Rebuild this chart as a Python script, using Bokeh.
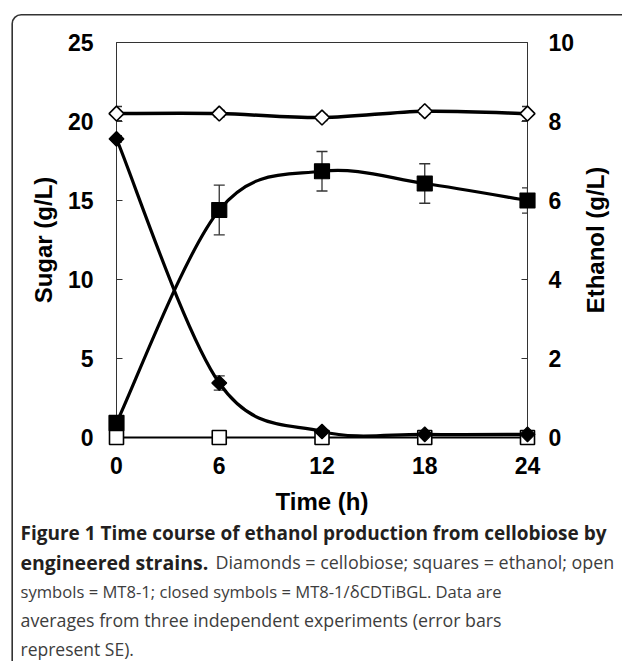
import numpy as np
from bokeh.plotting import figure
from bokeh.models import (Range1d, LinearAxis, FixedTicker, Whisker, ColumnDataSource, TeeHead)
from bokeh.core.properties import value
from bokeh.embed import file_html
from bokeh.resources import INLINE

# ---------------- data ----------------
time_h = [0, 6, 12, 18, 24]
cello_mt81 = [20.5, 20.5, 20.25, 20.65, 20.5]          # open diamonds (g/L)
cello_mt81_err = [0.45, 0.2, 0.2, 0.2, 0.45]
cello_bgl = [18.9, 3.45, 0.38, 0.2, 0.2]               # closed diamonds (g/L)
cello_bgl_err = [0.2, 0.45, 0.1, 0.1, 0.1]
ethanol_mt81 = [0, 0, 0, 0, 0]                          # open squares (g/L)
ethanol_bgl = [0.37, 5.76, 6.74, 6.43, 6.0]             # closed squares (g/L)
ethanol_bgl_err = [0.05, 0.63, 0.5, 0.5, 0.32]

time_ticks = [0, 6, 12, 18, 24]
sugar_ticks = [0, 5, 10, 15, 20, 25]
ethanol_ticks = [0, 2, 4, 6, 8, 10]

x_label = "Time (h)"
y_label = "Sugar (g/L)"
y2_label = "Ethanol (g/L)"

# caption: (text, style, font size)
caption_lines = [
    [("Figure 1 Time course of ethanol production from cellobiose by", "bold", 19)],
    [("engineered strains.", "bold", 19.5), ("Diamonds = cellobiose; squares = ethanol; open", "normal", 17.9)],
    [("symbols = MT8-1; closed symbols = MT8-1/\u03b4CDTiBGL. Data are", "normal", 16.6)],
    [("averages from three independent experiments (error bars", "normal", 17.8)],
    [("represent SE).", "normal", 17.5)],
]

# ---------------- helpers ----------------
def smooth_segments(xs, ys):
    """Excel-like smoothed line: cubic Bezier segments (Catmull-Rom)."""
    n = len(xs)
    out = dict(x0=[], y0=[], x1=[], y1=[], cx0=[], cy0=[], cx1=[], cy1=[])
    for i in range(n - 1):
        a = i - 1 if i > 0 else i
        d = i + 2 if i + 2 < n else i + 1
        out["x0"].append(xs[i]); out["y0"].append(ys[i])
        out["x1"].append(xs[i + 1]); out["y1"].append(ys[i + 1])
        out["cx0"].append(xs[i] + (xs[i + 1] - xs[a]) / 6.0)
        out["cy0"].append(ys[i] + (ys[i + 1] - ys[a]) / 6.0)
        out["cx1"].append(xs[i + 1] - (xs[d] - xs[i]) / 6.0)
        out["cy1"].append(ys[i + 1] - (ys[d] - ys[i]) / 6.0)
    return ColumnDataSource(out)

# layout (pixels)
W, H = 622, 661
FL, FR, FT, FB = 116, 527, 42, 437      # frame edges

p = figure(width=W, height=H, output_backend="svg", toolbar_location=None, title=None,
           x_range=Range1d(time_ticks[0], time_ticks[-1]),
           y_range=Range1d(sugar_ticks[0], sugar_ticks[-1]),
           min_border_left=FL, min_border_right=W - FR, min_border_top=FT, min_border_bottom=H - FB)
p.extra_y_ranges = {"eth": Range1d(ethanol_ticks[0], ethanol_ticks[-1])}
p.grid.visible = False
p.outline_line_color = "#333333"
p.outline_line_width = 1
p.background_fill_color = "white"
p.border_fill_color = "white"

tick_font = "Liberation Sans"

def style_axis(ax, ticks, standoff):
    ax.ticker = FixedTicker(ticks=ticks)
    ax.major_tick_in = 6
    ax.major_tick_out = 0
    ax.minor_tick_line_color = None
    ax.axis_line_color = "#333333"
    ax.major_tick_line_color = "#333333"
    ax.major_label_text_font = tick_font
    ax.major_label_text_font_style = "bold"
    ax.major_label_text_font_size = "23px"
    ax.major_label_text_color = "black"
    ax.major_label_standoff = standoff

style_axis(p.xaxis[0], time_ticks, 19)
style_axis(p.yaxis[0], sugar_ticks, 23)
yax2 = LinearAxis(y_range_name="eth")
style_axis(yax2, ethanol_ticks, 21)
p.add_layout(yax2, "right")

# axis titles (centres placed relative to the axis origin / frame edges)
y_mid = (sugar_ticks[0] + sugar_ticks[-1]) / 2
x_mid = (time_ticks[0] + time_ticks[-1]) / 2
title_kw = dict(text_font=value(tick_font), text_font_style="bold", text_font_size="24px",
                text_color="black", text_align="center", text_baseline="middle")
for tx, ty, txt, xo, yo, ang in [
        (time_ticks[0], y_mid, y_label, 43 - FL, 0, np.pi / 2),
        (time_ticks[-1], y_mid, y2_label, 595 - FR, 0, np.pi / 2),
        (x_mid, sugar_ticks[0], x_label, 0, 500.5 - FB, 0)]:
    t = p.text(x=[tx], y=[ty], text=[txt], x_offset=xo, y_offset=yo, angle=ang, **title_kw)
    t.level = "overlay"

# ---------------- lines ----------------
LW = 3.2
p.bezier(x0="x0", y0="y0", x1="x1", y1="y1", cx0="cx0", cy0="cy0", cx1="cx1", cy1="cy1",
         source=smooth_segments(time_h, cello_mt81), line_color="black", line_width=3.5, line_cap="round")
p.bezier(x0="x0", y0="y0", x1="x1", y1="y1", cx0="cx0", cy0="cy0", cx1="cx1", cy1="cy1",
         source=smooth_segments(time_h, cello_bgl), line_color="black", line_width=LW, line_cap="round")
p.bezier(x0="x0", y0="y0", x1="x1", y1="y1", cx0="cx0", cy0="cy0", cx1="cx1", cy1="cy1",
         source=smooth_segments(time_h, ethanol_bgl), line_color="black", line_width=LW, line_cap="round",
         y_range_name="eth")
p.line(time_h, ethanol_mt81, line_color="black", line_width=2.2, y_range_name="eth", level="overlay")

# ---------------- error bars ----------------
def add_err(xs, ys, es, y_range_name="default"):
    src = ColumnDataSource(dict(x=xs, lo=[y - e for y, e in zip(ys, es)], hi=[y + e for y, e in zip(ys, es)]))
    w = Whisker(source=src, base="x", lower="lo", upper="hi", dimension="height",
                line_color="#333333", line_width=1.3, y_range_name=y_range_name,
                upper_head=TeeHead(size=11, line_color="#333333", line_width=1.3),
                lower_head=TeeHead(size=11, line_color="#333333", line_width=1.3))
    p.add_layout(w)

add_err(time_h, cello_mt81, cello_mt81_err)
add_err(time_h, cello_bgl, cello_bgl_err)
add_err(time_h, ethanol_bgl, ethanol_bgl_err, "eth")

# ---------------- markers ----------------
r = p.scatter(time_h, ethanol_mt81, marker="square", size=14, fill_color="white", line_color="black",
              line_width=1.6, y_range_name="eth")
r.level = "overlay"
r = p.scatter(time_h, ethanol_bgl, marker="square", size=15, fill_color="black", line_color="black",
              line_width=1.2, y_range_name="eth")
r.level = "overlay"
r = p.scatter(time_h, cello_bgl, marker="square", angle=np.pi / 4, size=10.5, fill_color="black",
              line_color="black", line_width=1.2)
r.level = "overlay"
r = p.scatter(time_h, cello_mt81, marker="square", angle=np.pi / 4, size=10.5, fill_color="white",
              line_color="black", line_width=1.6)
r.level = "overlay"

# ---------------- caption ----------------
cap_font = "Open Sans"
cap_left, cap_mid0, cap_dy = 20, 532.5, 29
second_piece_x = 215
for li, pieces in enumerate(caption_lines):
    for pi_, (txt, style, size) in enumerate(pieces):
        xo = (second_piece_x if pi_ == 1 else cap_left) - FL
        t = p.text(x=[time_ticks[0]], y=[sugar_ticks[0]], text=[txt], x_offset=xo,
                   y_offset=cap_mid0 + li * cap_dy - FB, text_font=value(cap_font),
                   text_font_size=f"{size}px", text_font_style=style,
                   text_color="#231f20" if style == "bold" else "#3d3d3d",
                   text_baseline="middle", text_align="left")
        t.level = "overlay"

# ---------------- panel border (rounded, running off the right/bottom edges) ----------------
bx0, by0, bx1, by1 = 11.7, 14.3, W + 60, H + 60
px_x = (FR - FL) / (time_ticks[-1] - time_ticks[0])
px_y = (FB - FT) / (sugar_ticks[-1] - sugar_ticks[0])
cx = time_ticks[0] + ((bx0 + bx1) / 2 - FL) / px_x
cy = sugar_ticks[0] + (FB - (by0 + by1) / 2) / px_y
rect_kw = dict(x=[cx], y=[cy], width=[bx1 - bx0], height=[by1 - by0], width_units="screen",
               height_units="screen", fill_color=None, line_color="#333333", line_width=1.6)
try:
    b = p.rect(border_radius=9, **rect_kw)
except Exception:
    b = p.rect(**rect_kw)
b.level = "overlay"

open("out.html", "w").write(file_html(p, INLINE))
